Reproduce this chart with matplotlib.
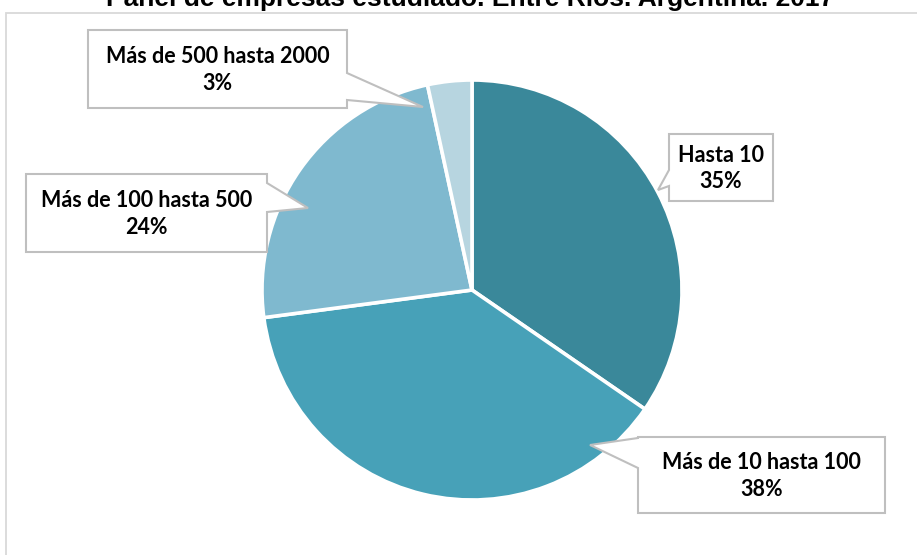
import matplotlib
matplotlib.use("Agg")
import matplotlib.pyplot as plt
from matplotlib.patches import Polygon, Rectangle

# ---- data ----
categories = ["Hasta 10", "Más de 10 hasta 100", "Más de 100 hasta 500", "Más de 500 hasta 2000"]
values = [34.6, 38.3, 23.7, 3.4]
colors = ["#3A889A", "#47A1B8", "#7FB9CF", "#B7D5E0"]
title = "Panel de empresas estudiado. Entre Ríos. Argentina. 2017"

W, H = 917, 555
fig = plt.figure(figsize=(W / 100, H / 100), dpi=100)
ax = fig.add_axes([0, 0, 1, 1])
ax.set_xlim(0, W)
ax.set_ylim(0, H)
ax.set_aspect("equal")
ax.axis("off")

def Y(y):
    return H - y

# outer chart border
ax.add_patch(Rectangle((6, Y(560)), 920, 547, fill=False, ec="#D9D9D9", lw=1.3, zorder=0))

# title (clipped at the top as in the reference)
ax.text(470, Y(6), title, ha="center", va="baseline", fontsize=19,
        fontweight="bold", family="Liberation Sans", color="#000000")

# pie
wedges, _ = ax.pie(values, colors=colors, startangle=90, counterclock=False,
                   center=(472, Y(290)), radius=210,
                   wedgeprops=dict(edgecolor="white", linewidth=2.6))
ax.set_xlim(0, W)
ax.set_ylim(0, H)

# callouts: (box x0, y0, x1, y1), side, base y0/y1, tip
callouts = [
    dict(box=(669, 134, 773, 201), side="left", base=(170, 186), tip=(658, 190)),
    dict(box=(638, 437, 885, 513), side="left", base=(438, 468), tip=(590, 445)),
    dict(box=(26, 174, 267, 252), side="right", base=(183, 212), tip=(308, 208)),
    dict(box=(88, 30, 347, 108), side="right", base=(73, 100), tip=(423, 107)),
]

for cat, val, c in zip(categories, values, callouts):
    x0, y0, x1, y1 = c["box"]
    b0, b1 = c["base"]
    tx, ty = c["tip"]
    if c["side"] == "left":
        pts = [(x0, y0), (x1, y0), (x1, y1), (x0, y1), (x0, b1), (tx, ty), (x0, b0)]
    else:
        pts = [(x0, y0), (x1, y0), (x1, b0), (tx, ty), (x1, b1), (x1, y1), (x0, y1)]
    pts = [(px, Y(py)) for px, py in pts]
    ax.add_patch(Polygon(pts, closed=True, fc="white", ec="#BFBFBF", lw=1.5, zorder=5))
    ax.text((x0 + x1) / 2, Y((y0 + y1) / 2 + 1), f"{cat}\n{round(val)}%",
            ha="center", va="center", fontsize=15.5, fontweight="bold",
            family="Lato", color="#000000", linespacing=1.3, zorder=6)

fig.savefig("out.png", dpi=100)
